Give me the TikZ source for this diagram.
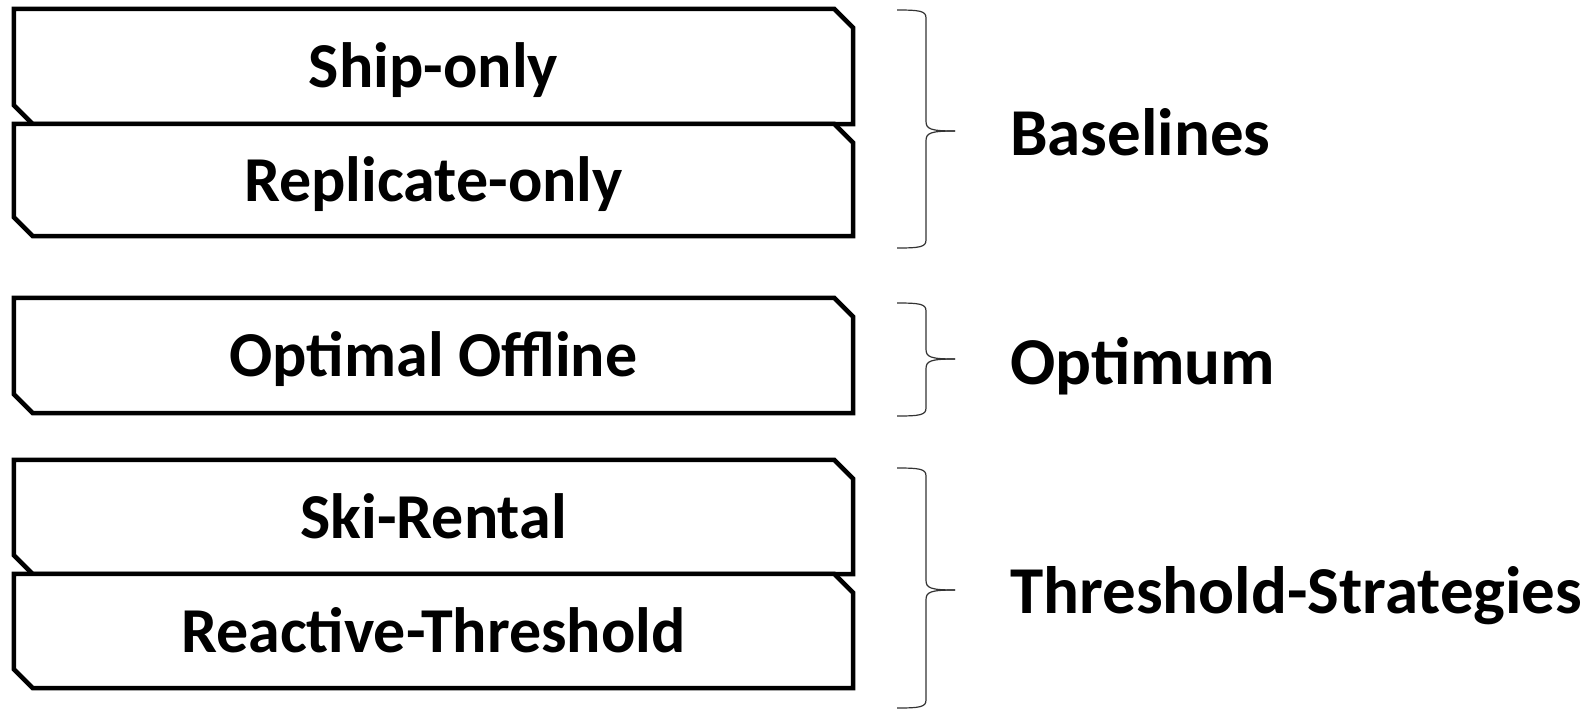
\documentclass[tikz,border=0pt]{standalone}
\usepackage{fontspec}
\setmainfont{Carlito}
\begin{document}
\begin{tikzpicture}[x=1pt,y=-1pt,
  boxshape/.style={rectangle,inner sep=0pt,minimum width=839pt},
  boxframe/.style={draw=black,fill=white,line width=4.5pt,line join=miter},
  boxtext/.style={font=\fontsize{64}{76}\selectfont\bfseries,anchor=base,inner sep=0pt},
  grouptext/.style={font=\fontsize{67}{80}\selectfont\bfseries,anchor=base west,inner sep=0pt},
  bracestyle/.style={draw=black!80,line width=1.2pt}]
\useasboundingbox (0,0) rectangle (1595,710);
\fill[white] (0,0) rectangle (1595,710);

% chamfered boxes: name / vertical centre / height / caption
\foreach \n/\cy/\h/\txt in {b1/66.5/115/Ship-only, b2/180/112/Replicate-only,
    b3/355.5/115/Optimal Offline, b4/517/114/Ski-Rental, b5/631/114/Reactive-Threshold} {
  \node[boxshape,minimum height=\h pt] (\n) at (433.5,\cy) {};
  \draw[boxframe] ([xshift=-19pt]\n.north east) -- ([yshift=-19pt]\n.north east)
    -- (\n.south east) -- ([xshift=19pt]\n.south west) -- ([yshift=19pt]\n.south west)
    -- (\n.north west) -- cycle;
  \node[boxtext] (\n-t) at ([yshift=-21pt]\n.center) {\txt};
}

% right braces: top / middle / bottom
\foreach \t/\m/\b in {10/131/248, 303/359/416, 468/590/708} {
  \coordinate (tipA) at (897,\t);
  \coordinate (tipB) at (897,\b);
  \coordinate (tipM) at (955,\m);
  \draw[bracestyle] (tipA) .. controls (920,\t) and (926,{\t+1}) .. (926,{\t+8})
    -- (926,{\m-10}) .. controls (926,{\m-2}) and (930,\m) .. (tipM);
  \draw[bracestyle] (tipB) .. controls (920,\b) and (926,{\b-1}) .. (926,{\b-8})
    -- (926,{\m+10}) .. controls (926,{\m+2}) and (930,\m) .. (tipM);
}

\node[grouptext] (g1) at (1010,155) {Baselines};
\node[grouptext] (g2) at (1010,384) {Optimum};
\node[grouptext] (g3) at (1010,613) {Threshold-Strategies};
\end{tikzpicture}
\end{document}
